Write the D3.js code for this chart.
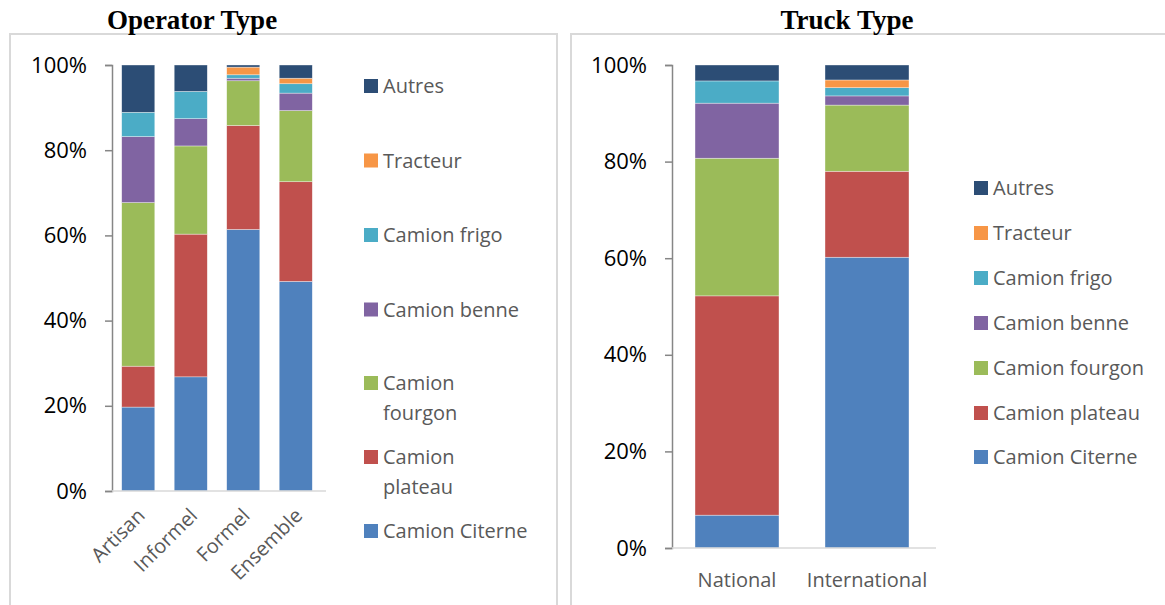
<!DOCTYPE html>
<html>
<head>
<meta charset="utf-8">
<script src="https://cdn.jsdelivr.net/npm/d3@7"></script>
<style>
  body { margin: 0; background: #fff; }
  svg { display: block; }
</style>
</head>
<body>
<div id="chart"></div>
<script>
// series, bottom to top
const seriesNames = ["Camion Citerne", "Camion plateau", "Camion fourgon", "Camion benne", "Camion frigo", "Tracteur", "Autres"]
const seriesColors = ["#4f81bd", "#c0504d", "#9bbb59", "#8064a2", "#4bacc6", "#f79646", "#2c4d75"]

// Operator Type panel (percent)
const operatorCategories = ["Artisan", "Informel", "Formel", "Ensemble"]
const operatorCiterne  = [19.7, 26.8, 61.4, 49.2]
const operatorPlateau  = [9.6, 33.5, 24.4, 23.4]
const operatorFourgon  = [38.4, 20.7, 10.5, 16.7]
const operatorBenne    = [15.5, 6.4, 0.6, 4.1]
const operatorFrigo    = [5.7, 6.4, 0.8, 2.2]
const operatorTracteur = [0, 0, 1.8, 1.3]
const operatorAutres   = [11.1, 6.2, 0.5, 3.1]

// Truck Type panel (percent)
const truckCategories = ["National", "International"]
const truckCiterne  = [6.8, 60.2]
const truckPlateau  = [45.4, 17.8]
const truckFourgon  = [28.5, 13.7]
const truckBenne    = [11.4, 1.9]
const truckFrigo    = [4.6, 1.7]
const truckTracteur = [0, 1.6]
const truckAutres   = [3.3, 3.1]

const yTicks = [0, 20, 40, 60, 80, 100]

const width = 1165, height = 605
const font = "'Open Sans', Lato, sans-serif"
const fontSize = "20px"

const svg = d3.select("#chart").append("svg")
  .attr("width", width)
  .attr("height", height)

// build rows {category, series...} for d3.stack
function makeRows(categories, lists) {
  return categories.map((c, i) => {
    const row = {category: c}
    seriesNames.forEach((s, k) => row[s] = lists[k][i])
    return row
  })
}

function drawPanel(opts) {
  const g = svg.append("g")

  // frame
  g.append("rect")
    .attr("x", opts.frame[0]).attr("y", 34)
    .attr("width", opts.frame[1] - opts.frame[0]).attr("height", 600)
    .attr("fill", "none").attr("stroke", "#d9d9d9").attr("stroke-width", 2)

  // title
  g.append("text")
    .attr("x", opts.titleX).attr("y", 29)
    .attr("text-anchor", "middle")
    .style("font-family", "'Liberation Serif', 'Times New Roman', serif")
    .style("font-weight", "bold").style("font-size", "27px")
    .text(opts.title)

  const x = d3.scaleBand()
    .domain(opts.categories)
    .range(opts.xRange)
    .paddingInner(opts.pad).paddingOuter(opts.pad / 2)

  const y = d3.scaleLinear().domain([0, 100]).range(opts.yRange)

  const stacked = d3.stack().keys(seriesNames)(makeRows(opts.categories, opts.lists))

  g.selectAll("g.layer")
    .data(stacked)
    .join("g")
    .attr("class", "layer")
    .attr("fill", (d, i) => seriesColors[i])
    .selectAll("rect")
    .data(d => d.filter(p => p[1] - p[0] > 0))
    .join("rect")
    .attr("x", d => x(d.data.category))
    .attr("width", x.bandwidth())
    .attr("y", d => y(d[1]))
    .attr("height", d => y(d[0]) - y(d[1]))
    .attr("stroke", "#ffffff").attr("stroke-opacity", 0.6).attr("stroke-width", 0.6)

  // y axis
  const yAxis = g.append("g")
    .attr("transform", `translate(${opts.xRange[0]},0)`)
    .call(d3.axisLeft(y).tickValues(yTicks).tickFormat(d => d + "%").tickSize(7).tickPadding(18))
  yAxis.select(".domain").attr("stroke", "#868686").attr("stroke-width", 1.5)
  yAxis.selectAll(".tick line").attr("stroke", "#868686").attr("stroke-width", 1.5)
  yAxis.selectAll(".tick text")
    .style("font-family", font).style("font-size", "22px").attr("fill", "#000")

  // baseline
  g.append("line")
    .attr("x1", opts.xRange[0]).attr("x2", opts.xRange[1] + 4)
    .attr("y1", y(0)).attr("y2", y(0))
    .attr("stroke", "#d9d9d9").attr("stroke-width", 1.5)

  // category labels
  const labels = g.selectAll("text.cat")
    .data(opts.categories)
    .join("text")
    .attr("class", "cat")
    .style("font-family", font).style("font-size", fontSize)
    .attr("fill", "#595959")
    .text(d => d)
  if (opts.rotate) {
    labels.attr("text-anchor", "end")
      .attr("transform", d => `translate(${x(d) + x.bandwidth() / 2 - 2},${y(0) + 16}) rotate(-45)`)
      .attr("dy", "0.7em")
  } else {
    labels.attr("text-anchor", "middle")
      .attr("x", d => x(d) + x.bandwidth() / 2)
      .attr("y", y(0) + 39)
  }

  // legend, top entry = last series
  const legend = g.append("g")
  const entries = seriesNames.map((s, i) => ({name: s, color: seriesColors[i]})).reverse()
  entries.forEach((e, i) => {
    const lines = opts.legendLines[e.name] || [e.name]
    const cy = opts.legendY[i]
    legend.append("rect")
      .attr("x", opts.legendX).attr("y", cy - 7)
      .attr("width", 14).attr("height", 14)
      .attr("fill", e.color)
    lines.forEach((t, j) => {
      legend.append("text")
        .attr("x", opts.legendX + 19).attr("y", cy + j * 30)
        .attr("dy", "0.35em")
        .style("font-family", font).style("font-size", fontSize)
        .attr("fill", "#595959")
        .text(t)
    })
  })
}

drawPanel({
  title: "Operator Type",
  titleX: 192,
  frame: [10, 557],
  categories: operatorCategories,
  lists: [operatorCiterne, operatorPlateau, operatorFourgon, operatorBenne, operatorFrigo, operatorTracteur, operatorAutres],
  xRange: [112, 322],
  yRange: [491, 65],
  pad: 0.37,
  rotate: true,
  legendX: 364,
  legendY: [86, 160.5, 235, 309.5, 383, 457, 531],
  legendLines: {"Camion fourgon": ["Camion", "fourgon"], "Camion plateau": ["Camion", "plateau"]}
})

drawPanel({
  title: "Truck Type",
  titleX: 847,
  frame: [571, 1175],
  categories: truckCategories,
  lists: [truckCiterne, truckPlateau, truckFourgon, truckBenne, truckFrigo, truckTracteur, truckAutres],
  xRange: [672, 932],
  yRange: [548, 65],
  pad: 0.354,
  rotate: false,
  legendX: 974,
  legendY: [188, 233, 278, 323, 368, 413, 457],
  legendLines: {}
})
</script>
</body>
</html>
